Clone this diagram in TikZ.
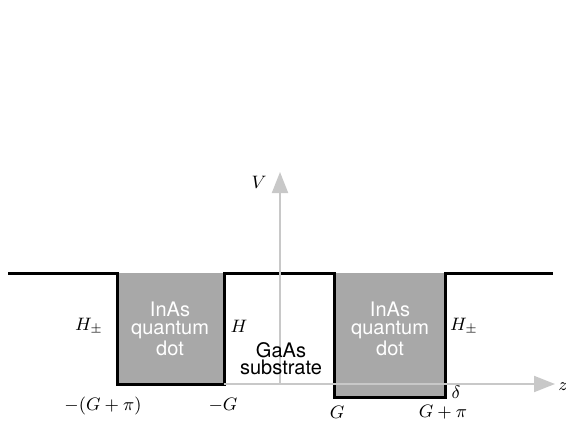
\documentclass[tikz,border=0pt]{standalone}
\usepackage{fontspec}
\setsansfont{TeX Gyre Heros}
\usetikzlibrary{arrows.meta}
\definecolor{wellgray}{RGB}{168,168,168}
\definecolor{axisgray}{RGB}{200,200,200}
\tikzset{
  pot/.style={line width=1.5pt, line join=miter},
  axisline/.style={axisgray, line width=1pt, -{Triangle[length=10.5pt,width=8pt]}},
  dottext/.style={font=\sffamily\fontsize{10}{9}\selectfont, text=white, align=center, inner sep=0pt},
  subtext/.style={font=\sffamily\fontsize{10}{8.5}\selectfont, text=black, align=center, inner sep=0pt},
  lab/.style={font=\fontsize{9}{11}\selectfont, inner sep=0pt}
}
\begin{document}
\begin{tikzpicture}[x=0.5pt,y=-0.5pt]
\useasboundingbox (0,0) rectangle (566,422);
% wells
\fill[wellgray] (117,273) rectangle (224,384);
\fill[wellgray] (334,273) rectangle (445,397);
% coordinates
\coordinate (p0) at (8,273);
\coordinate (p1) at (117,273);
\coordinate (p2) at (117,384);
\coordinate (p3) at (224,384);
\coordinate (p4) at (224,273);
\coordinate (p5) at (334,273);
\coordinate (p6) at (334,397);
\coordinate (p7) at (445,397);
\coordinate (p8) at (445,273);
\coordinate (p9) at (553,273);
\coordinate (o) at (280,384);
\coordinate (vt) at (280,172);
\coordinate (zt) at (555,384);
% potential profile
\draw[pot] (p0) -- (p1) -- (p2) -- (p3) -- (p4) -- (p5) -- (p6) -- (p7) -- (p8) -- (p9);
% axes
\draw[axisline] (p3) -- (zt);
\draw[axisline] (o) -- (vt);
% labels
\node[lab] (V) at (259,182) {$V$};
\node[lab] (z) at (563,387) {$z$};
\node[lab] (hl) at (89,326) {$H_{\pm}$};
\node[lab] (hm) at (239,326) {$H$};
\node[lab] (hr) at (464,326) {$H_{\pm}$};
\node[dottext] (dl) at (170,329) {InAs\\quantum\\dot};
\node[dottext] (dr) at (390,329) {InAs\\quantum\\dot};
\node[subtext] (sub) at (281,359) {GaAs\\substrate};
\node[lab] (a1) at (103,406) {$-(G+\pi)$};
\node[lab] (a2) at (223,405) {$-G$};
\node[lab] (a3) at (337,412) {$G$};
\node[lab] (a4) at (443,412) {$G+\pi$};
\node[lab] (d) at (456,392) {$\delta$};
\end{tikzpicture}
\end{document}
